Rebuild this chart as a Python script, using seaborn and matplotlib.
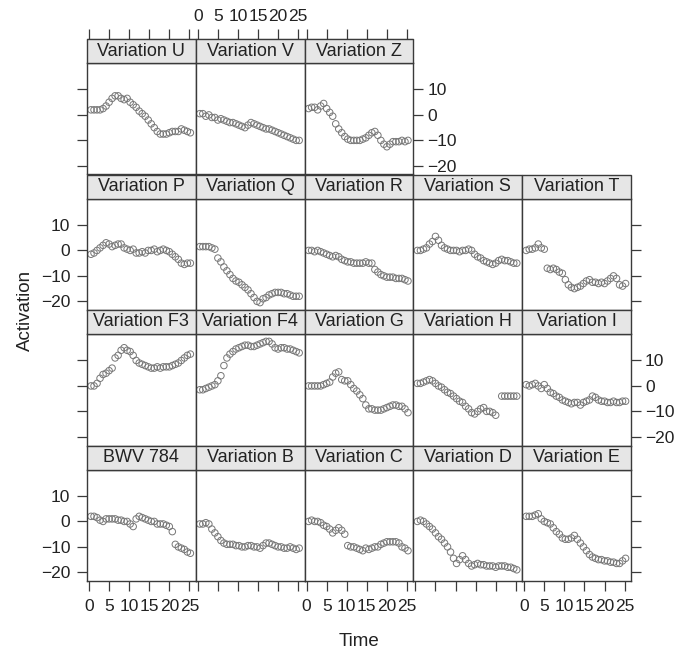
import numpy as np
import pandas as pd
import matplotlib
matplotlib.use("Agg")
import matplotlib.pyplot as plt
from matplotlib.patches import Rectangle
import seaborn as sns

# ── data (Time vs Activation, one list per variation) ──
time = [0.5, 1.25, 2.0, 2.75, 3.5, 4.25, 5.0, 5.75, 6.5, 7.25, 8.0, 8.75,
        9.5, 10.25, 11.0, 11.75, 12.5, 13.25, 14.0, 14.75, 15.5, 16.25,
        17.0, 17.75, 18.5, 19.25, 20.0, 20.75, 21.5, 22.25, 23.0, 23.75,
        24.5, 25.25]

bwv_784 = [2, 2, 1.5, 0.5, 0, 1, 1, 1, 1, 0.5, 0.5, 0, 0, -1, -2, 1, 2, 1.5,
           1, 0.5, 0, 0, -1, -1, -1, -1.5, -2, -4, -9, -10, -10.5, -11, -12, -12.5]
var_b = [-1, -1, -0.5, -1, -3, -4.5, -6, -7.5, -8.5, -9, -9, -9, -9.5, -9.5,
         -10, -10, -9.5, -9.5, -10, -10, -10.5, -9.5, -8.5, -8.5, -9, -9.5, -10,
         -10, -10.5, -10.5, -10, -10.5, -11, -10.5]
var_c = [0, 0.5, 0, 0, -0.5, -1.5, -2, -3, -4.5, -3.5, -2.5, -3.5, -5, -9.5,
         -10, -10, -10.5, -11, -11.5, -10.5, -11, -10.5, -10, -10, -9, -8.5, -8,
         -8, -8, -8, -8.5, -10, -10.5, -11.5]
var_d = [0, 0.5, 0, -1, -2, -3, -4.5, -6, -7, -8.5, -10, -12, -14.5, -16.5,
         -15, -13.5, -15, -16.5, -17.5, -17, -16.5, -17, -17, -17.5, -17.5,
         -17.5, -18, -17.5, -17.5, -17.5, -18, -18, -18.5, -19]
var_e = [2, 2, 2, 2.5, 3, 1, 0, -0.5, -1, -2.5, -4, -5, -6.5, -7, -7, -6.5,
         -5.5, -7, -8.5, -10, -11.5, -13, -14, -14.5, -15, -15, -15.5, -15.5,
         -16, -16, -16.5, -16.5, -15.5, -14.5]
var_f3 = [0, 0, 1, 3, 4.5, 5, 6, 7, 11, 12, 14, 15, 14, 13.5, 12, 10, 9, 8.5,
          8, 7.5, 7, 7, 7.5, 7, 7.5, 7.5, 7.5, 8, 8.5, 9, 10, 11, 12, 12.5]
var_f4 = [-1.5, -1.5, -1, -0.5, 0, 0.5, 2, 4, 8, 11, 12.5, 13.5, 14.5, 15,
          15.5, 16, 16, 15.5, 15.5, 16, 16.5, 17, 17.5, 17.5, 16.5, 15, 14.5,
          15, 15, 14.5, 14.5, 14, 13.5, 13]
var_g = [0, 0, 0, 0, 0, 0.5, 1, 1.5, 3.5, 5, 5.5, 2.5, 2, 2, 0.5, -1, -2,
         -3.5, -5, -7.5, -9, -9, -9.5, -9.5, -9.5, -9, -8.5, -8, -7.5, -7.5,
         -8, -8, -9, -10.5]
var_h = [1, 1, 1.5, 2, 2.5, 2, 1, 0, -0.5, -1.5, -2.5, -3, -4, -5, -6, -6.5,
         -8, -9, -10.5, -11, -10, -9, -8.5, -10, -10, -10.5, -11.5, np.nan,
         -4, -4, -4, -4, -4, -4]
var_i = [0.5, 0, 0.5, 1, 0, -1, 0.5, -1, -2.5, -3, -4, -4.5, -5.5, -6, -6.5,
         -7, -6.5, -6.5, -7.5, -6.5, -6, -5.5, -4, -4.5, -5.5, -6, -6, -6.5,
         -6.5, -6, -6.5, -6.5, -6, -6]
var_p = [-1.5, -1, 0, 1, 2, 3, 2.5, 1.5, 2, 2.5, 2.5, 1, 0.5, 0, 0.5, -1, -1,
         -0.5, -1, 0, 0, 0.5, -0.5, 0, 0.5, 0, -0.5, -1.5, -2.5, -3.5, -5,
         -5.5, -5, -5]
var_q = [1.5, 1.5, 1.5, 1.5, 1, 0.5, -3, -4.5, -6.5, -8, -9.5, -11, -12,
         -12.5, -13.5, -14.5, -15.5, -17, -18.5, -20, -20.5, -19, -18.5, -17.5,
         -17, -16.5, -16.5, -16.5, -17, -17, -17.5, -18, -18, -18]
var_r = [0, 0, -0.5, 0, -0.5, -1, -1.5, -2, -2.5, -2, -2.5, -3.5, -4, -4.5,
         -4.5, -5, -5, -5, -5, -4.5, -5, -5, -7.5, -8.5, -9.5, -10, -10.5,
         -10.5, -10.5, -11, -11, -11, -11.5, -12]
var_s = [0, 0, 0.5, 1, 2.5, 3.5, 5.5, 4, 2, 1, 0.5, 0, 0, 0, -0.5, 0, 0, 0.5,
         0, -1.5, -2.5, -3, -4, -4.5, -5, -5.5, -5, -4, -3.5, -4, -4, -4.5,
         -5, -5]
var_t = [0, 0.5, 0.5, 1, 2.5, 1, 0.5, -7, -7.5, -7, -7.5, -8.5, -9, -11.5,
         -13.5, -14.5, -15, -14.5, -14, -13, -12, -11.5, -12.5, -12.5, -13,
         -12.5, -13, -12, -11, -10, -11, -13.5, -14, -13]
var_u = [2, 2, 2, 2, 2.5, 3.5, 5, 6.5, 7.5, 7.5, 6.5, 6, 6.5, 5, 4, 3, 1.5,
         0.5, -0.5, -2, -3.5, -5, -6.5, -7.5, -7.5, -7.5, -7, -6.5, -6.5, -6.5,
         -5.5, -6, -6.5, -7]
var_v = [0.5, 0.5, -0.5, 0, -1, -1, -2, -1.5, -2, -2.5, -3, -3, -3.5, -4,
         -4.5, -5, -4, -3, -3.5, -4, -4.5, -5, -5.5, -5.5, -6, -6.5, -7, -7.5,
         -8, -8.5, -9, -9.5, -10, -10]
var_z = [2.5, 3, 3, 2, 3.5, 4.5, 2.5, 1, -0.5, -3.5, -5.5, -7, -8.5, -9.5,
         -10, -10, -10, -10, -9.5, -9, -8, -7, -6.5, -8, -10, -11.5, -12.5,
         -11.5, -10.5, -10.5, -10.5, -10, -10.5, -10]

series = {
    "BWV 784": bwv_784, "Variation B": var_b, "Variation C": var_c,
    "Variation D": var_d, "Variation E": var_e, "Variation F3": var_f3,
    "Variation F4": var_f4, "Variation G": var_g, "Variation H": var_h,
    "Variation I": var_i, "Variation P": var_p, "Variation Q": var_q,
    "Variation R": var_r, "Variation S": var_s, "Variation T": var_t,
    "Variation U": var_u, "Variation V": var_v, "Variation Z": var_z,
}

# lattice-style layout, top row first
layout = [
    ["Variation U", "Variation V", "Variation Z", None, None],
    ["Variation P", "Variation Q", "Variation R", "Variation S", "Variation T"],
    ["Variation F3", "Variation F4", "Variation G", "Variation H", "Variation I"],
    ["BWV 784", "Variation B", "Variation C", "Variation D", "Variation E"],
]
x_ticks = [0, 5, 10, 15, 20, 25]
y_ticks = [-20, -10, 0, 10]

# ── long table for FacetGrid ──
rows = []
for r, line in enumerate(layout):
    for c, name in enumerate(line):
        if name is None:
            continue
        for t, a in zip(time, series[name]):
            rows.append((name, r, c, t, a))
df = pd.DataFrame(rows, columns=["panel", "grow", "gcol", "time", "activation"])

sns.set_style("white")
plt.rcParams["font.family"] = ["Liberation Sans", "DejaVu Sans"]

FRAME = "#3a3a3a"
TEXT = "#222222"

g = sns.FacetGrid(df, row="grow", col="gcol", row_order=range(4),
                  col_order=range(5), sharex=False, sharey=False,
                  despine=False, height=1.5, aspect=1)
g.map_dataframe(sns.scatterplot, x="time", y="activation", marker="o",
                s=22, color="#777777", facecolors="none",
                edgecolor="#777777", linewidth=0.7)
g.set_titles(template="")
g.set_axis_labels("", "")

fig = g.figure
W, H = 681, 652
fig.set_size_inches(W / 100, H / 100)

left0, col_w = 87, 108.8
top0, row_h, strip_h = 39, 135.5, 24
panel_h = row_h - strip_h
strip_frac = strip_h / panel_h
tick_kw = dict(direction="out", length=7, width=0.9, color=FRAME,
               labelsize=12.5, labelcolor=TEXT)

for r in range(4):
    for c in range(5):
        ax = g.axes[r, c]
        name = layout[r][c]
        if name is None:
            ax.set_visible(False)
            continue
        x0 = left0 + c * col_w
        y_bot = top0 + r * row_h + row_h
        ax.set_position([x0 / W, 1 - y_bot / H, col_w / W, panel_h / H])
        ax.set_xlim(-0.5, 26.6)
        ax.set_ylim(-23.4, 20.4)
        ax.set_xticks(x_ticks)
        ax.set_yticks(y_ticks)
        ax.set_xlabel("")
        ax.set_ylabel("")
        for sp in ax.spines.values():
            sp.set_color(FRAME)
            sp.set_linewidth(1.0)

        is_bottom = r == 3
        is_left = c == 0
        is_right = (c == 4) or (r == 0 and c == 2)
        ax.tick_params(axis="x", bottom=is_bottom, top=False,
                       labelbottom=is_bottom and c % 2 == 0, labeltop=False,
                       pad=6, **tick_kw)
        ax.tick_params(axis="y", left=is_left, right=is_right,
                       labelleft=is_left and r in (1, 3),
                       labelright=is_right and r in (0, 2), pad=3, **tick_kw)
        if is_left:
            ax.tick_params(axis="y", which="major", pad=5)

        # strip on top of the panel
        ax.add_patch(Rectangle((0, 1), 1, strip_frac, transform=ax.transAxes,
                               clip_on=False, facecolor="#e6e6e6",
                               edgecolor=FRAME, linewidth=1.0, zorder=3))
        ax.text(0.5, 1 + strip_frac / 2, name, transform=ax.transAxes,
                ha="center", va="center", fontsize=13, color=TEXT, zorder=4)

        # top axis sits above the strip for the top row
        if r == 0:
            sec = ax.secondary_xaxis(1 + strip_frac)
            sec.set_xticks(x_ticks)
            sec.spines["top"].set_color(FRAME)
            sec.tick_params(axis="x", top=True, labeltop=(c == 1), pad=4,
                            **tick_kw)

fig.text(25 / W, 1 - 310 / H, "Activation", rotation=90, ha="center",
         va="center", fontsize=13.5, color=TEXT)
fig.text(359 / W, 1 - 641 / H, "Time", ha="center", va="center",
         fontsize=13.5, color=TEXT)

fig.savefig("out.png", dpi=100)
